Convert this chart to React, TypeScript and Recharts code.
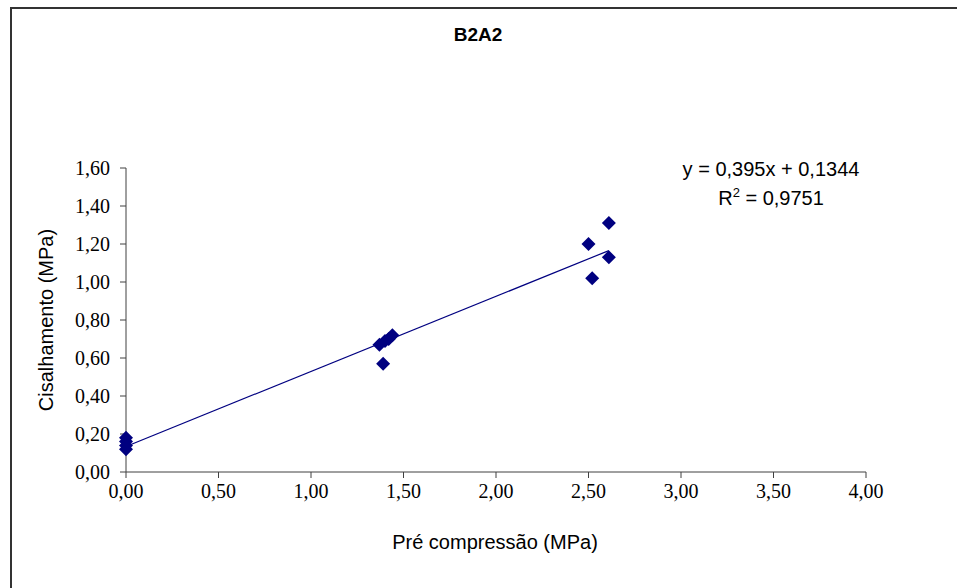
import React from 'react';
import { ScatterChart, Scatter, XAxis, YAxis, ReferenceLine, Label } from 'recharts';

// measured points (MPa)
const preCompression = [0, 0, 0, 0, 1.37, 1.4, 1.42, 1.44, 1.39, 2.61, 2.5, 2.61, 2.52];
const shear = [0.18, 0.16, 0.14, 0.12, 0.67, 0.69, 0.7, 0.72, 0.57, 1.31, 1.2, 1.13, 1.02];

const xTicks = [0, 0.5, 1, 1.5, 2, 2.5, 3, 3.5, 4];
const yTicks = [0, 0.2, 0.4, 0.6, 0.8, 1, 1.2, 1.4, 1.6];

// linear trend shown on the chart
const slope = 0.395;
const intercept = 0.1344;
const rSquared = '0,9751';

const points = preCompression.map((x, i) => ({ x, y: shear[i] }));
const xMax = Math.max(...preCompression);
const trend = [
  { x: 0, y: intercept },
  { x: xMax, y: slope * xMax + intercept },
];

const fmt = (v: number) => v.toFixed(2).replace('.', ',');

const NAVY = '#000080';
const AXIS = '#404040';
const SANS = '"Liberation Sans", Arial, sans-serif';
const SERIF = '"Liberation Serif", "Times New Roman", serif';

const Diamond = (props: any) => {
  const { cx, cy } = props;
  const r = 7;
  return (
    <polygon
      points={`${cx},${cy - r} ${cx + r},${cy} ${cx},${cy + r} ${cx - r},${cy}`}
      fill={NAVY}
    />
  );
};

export default function App() {
  return (
    <div style={{ position: 'absolute', left: 0, top: 0, width: 957, height: 588, overflow: 'hidden', background: '#fff' }}>
      <div
        style={{
          position: 'absolute',
          left: 10,
          top: 7,
          width: 980,
          height: 620,
          borderLeft: '2px solid #333',
          borderTop: '2px solid #333',
        }}
      />
      <ScatterChart width={957} height={588} margin={{ top: 168, right: 91, bottom: 0, left: 0 }}>
        <XAxis
          type="number"
          dataKey="x"
          domain={[0, 4]}
          ticks={xTicks}
          tickFormatter={fmt}
          height={116}
          stroke={AXIS}
          tickSize={6}
          tickMargin={6}
          tick={{ fill: '#000', fontSize: 20, fontFamily: SERIF }}
        >
          <Label
            content={() => (
              <text x={495} y={542} textAnchor="middle" dominantBaseline="central" fontSize={20} fontFamily={SANS} fill="#000">
                Pré compressão (MPa)
              </text>
            )}
          />
        </XAxis>
        <YAxis
          type="number"
          dataKey="y"
          domain={[0, 1.6]}
          ticks={yTicks}
          tickFormatter={fmt}
          width={126}
          stroke={AXIS}
          tickSize={6}
          tickMargin={10}
          tick={{ fill: '#000', fontSize: 20, fontFamily: SERIF }}
        >
          <Label
            content={() => (
              <text
                x={46}
                y={320}
                transform="rotate(-90 46 320)"
                textAnchor="middle"
                dominantBaseline="central"
                fontSize={20}
                fontFamily={SANS}
                fill="#000"
              >
                Cisalhamento (MPa)
              </text>
            )}
          />
        </YAxis>
        <ReferenceLine
          segment={[trend[0], trend[1]]}
          stroke={NAVY}
          strokeWidth={1.2}
          ifOverflow="visible"
        />
        <Scatter data={points} shape={Diamond} isAnimationActive={false} />
      </ScatterChart>
      <div
        style={{
          position: 'absolute',
          left: 378,
          width: 200,
          top: 24,
          textAlign: 'center',
          fontFamily: SANS,
          fontWeight: 'bold',
          fontSize: 19,
        }}
      >
        B2A2
      </div>
      <div
        style={{
          position: 'absolute',
          left: 651,
          width: 240,
          top: 155,
          textAlign: 'center',
          fontFamily: SANS,
          fontSize: 20,
          lineHeight: '29px',
          color: '#000',
        }}
      >
        <div>
          y = {String(slope).replace('.', ',')}x + {String(intercept).replace('.', ',')}
        </div>
        <div>
          R<sup style={{ fontSize: 13, verticalAlign: 'top', lineHeight: '18px' }}>2</sup> = {rSquared}
        </div>
      </div>
    </div>
  );
}
